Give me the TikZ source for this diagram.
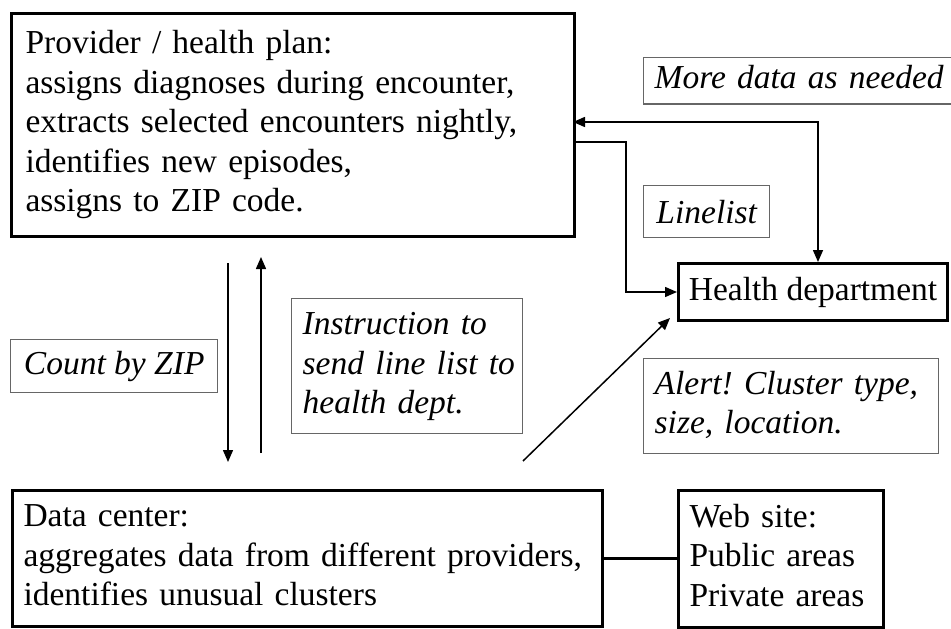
\documentclass[tikz,border=0pt]{standalone}
\usepackage{fontspec}
\setmainfont{Liberation Serif}
\usetikzlibrary{arrows.meta}
\frenchspacing
\newcommand{\lines}[1]{\begin{tabular}{@{}l@{}}#1\end{tabular}}
\tikzset{
  txt/.style={font=\fontsize{33.5}{39.5}\selectfont},
  mainbox/.style={txt, draw=black, line width=3pt, anchor=north west, align=left, inner xsep=12pt},
  labelbox/.style={draw=black!60, line width=1.4pt, anchor=north west, align=left, font=\fontsize{33.5}{39.5}\selectfont\itshape, inner xsep=11pt},
  conn/.style={line width=1.5pt, draw=black},
  tip/.style={-{Triangle[length=12pt,width=10pt]}},
  bitip/.style={{Triangle[length=12pt,width=10pt]}-{Triangle[length=12pt,width=10pt]}}
}
\begin{document}
\begin{tikzpicture}[x=1pt,y=-1pt]
\useasboundingbox (0,0) rectangle (951,629);
\clip (0,0) rectangle (951,629);

% boxes for the participants
\node[mainbox, minimum width=563pt, minimum height=223pt, text width=535pt, inner xsep=14pt] (prov) at (10,12)
  {\lines{Provider / health plan:\\assigns diagnoses during encounter,\\extracts selected encounters nightly,\\identifies new episodes,\\assigns to ZIP code.}};
\node[mainbox, minimum width=269pt, minimum height=57pt, inner xsep=8pt] (hd) at (677,262) {Health department};
\node[mainbox, minimum width=590pt, minimum height=136pt, text width=568pt, inner xsep=11pt] (dc) at (11,489)
  {\lines{Data center:\\aggregates data from different providers,\\identifies unusual clusters}};
\node[mainbox, minimum width=205pt, minimum height=137pt, text width=183pt, inner xsep=11pt] (web) at (677,489)
  {\lines{Web site:\\Public areas\\Private areas}};

% message labels
\node[labelbox, minimum width=340pt, minimum height=41pt, text width=318pt] (more) at (643,57) {\lines{More data as needed}};
\node[labelbox, minimum width=126pt, minimum height=52pt, inner xsep=6pt] (linelist) at (643,185) {Linelist};
\node[labelbox, minimum width=207pt, minimum height=53pt, inner xsep=6pt] (count) at (10,339) {Count by ZIP};
\node[labelbox, minimum width=231pt, minimum height=135pt, text width=209pt] (instr) at (291,298)
  {\lines{Instruction to\\send line list to\\health dept.}};
\node[labelbox, minimum width=295pt, minimum height=95pt, text width=273pt] (alert) at (643,358)
  {\lines{Alert! Cluster type,\\size, location.}};

% free ends of the connectors
\coordinate (downA) at (228,263);
\coordinate (downB) at (228,462);
\coordinate (upA) at (261,453);
\coordinate (upB) at (261,257);
\coordinate (moreL) at (573,122);
\coordinate (moreC) at (818,122);
\coordinate (lineL) at (573,142);
\coordinate (lineC) at (626,142);
\coordinate (alertA) at (523,461);
\coordinate (alertB) at (670,318);

% connectors
\draw[conn, tip] (downA) -- (downB);
\draw[conn, tip] (upA) -- (upB);
\draw[conn, bitip] (moreL) -- (moreC) -- (moreC |- hd.north);
\draw[conn, tip] (lineL) -- (lineC) |- (hd.west);
\draw[conn, tip] (alertA) -- (alertB);
\draw[line width=3pt] (dc.east) -- (dc.east -| web.west);
\end{tikzpicture}
\end{document}
